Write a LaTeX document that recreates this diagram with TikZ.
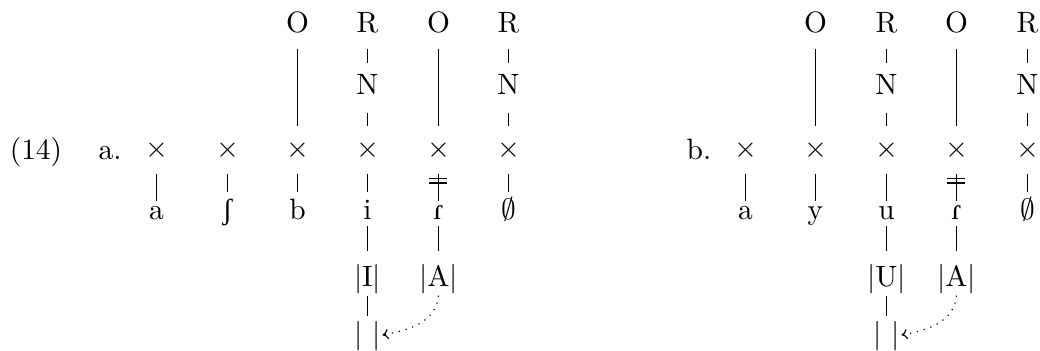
\documentclass[tikz,border=0pt]{standalone}
\usepackage{fontspec}
\newfontfamily\ipa{Liberation Serif}
\usetikzlibrary{arrows.meta}
\begin{document}
\begin{tikzpicture}[x=0.34pt,y=-0.34pt,
  seg/.style={inner sep=0pt, anchor=base},
  rA/.style={seg,text height=6.12pt,text depth=5.1pt},
  rN/.style={seg,text height=10.54pt,text depth=5.78pt},
  rX/.style={seg,text height=10.54pt,text depth=5.1pt},
  rL/.style={seg,text height=9.18pt,text depth=1.7pt},
  rLx/.style={seg,text height=6.12pt,text depth=1.7pt},
  rS/.style={seg,text height=11.9pt,text depth=2.72pt},
  rB/.style={seg,text height=9.2pt,text depth=2.5pt},
  link/.style={line width=0.4pt},
  spread/.style={dotted, -{To[length=2pt,width=3.4pt]}}
]
\useasboundingbox (0,0) rectangle (1040,351);
% labels
\node[seg] (ex) at (36,160) {(14)};
\node[seg] (la) at (110,160) {a.};
\node[seg] (lb) at (699,160) {b.};
% ---------- a ----------
\node[rX] (ax1) at (156.5,158) {$\times$};
\node[rX] (ax2) at (227.5,158) {$\times$};
\node[rX] (ax3) at (297.5,158) {$\times$};
\node[rX] (ax4) at (367.5,158) {$\times$};
\node[rX] (ax5) at (438.5,158) {$\times$};
\node[rX] (ax6) at (508.5,158) {$\times$};
\node[rA] (ao3) at (297.5,33) {O};
\node[rA] (ar4) at (367.5,33) {R};
\node[rA] (ao5) at (438.5,33) {O};
\node[rA] (ar6) at (508.5,33) {R};
\node[rN] (an4) at (367.5,95) {N};
\node[rN] (an6) at (508.5,95) {N};
\node[rLx] (as1) at (156.5,220) {a};
\node[rL] (as2) at (227.5,220) {\ipa ʃ};
\node[rL] (as3) at (297.5,220) {b};
\node[rL] (as4) at (367.5,220) {i};
\node[rLx] (as5) at (438.5,220) {\ipa ɾ};
\node[rL] (as6) at (508.5,220) {$\emptyset$};
\node[rS] (am4) at (367.5,287) {$|\mathrm{I}|$};
\node[rS] (am5) at (438.5,287) {$|\mathrm{A}|$};
\node[rB] (ab4) at (367.5,344) {$|\phantom{\mathrm{I}}|$};
\draw[link] (ao3.south) -- (ax3.north);
\draw[link] (ao5.south) -- (ax5.north);
\draw[link] (ar4.south) -- (an4.north);
\draw[link] (an4.south) -- (ax4.north);
\draw[link] (ar6.south) -- (an6.north);
\draw[link] (an6.south) -- (ax6.north);
\draw[link] (ax1.south) -- (as1.north);
\draw[link] (ax2.south) -- (as2.north);
\draw[link] (ax3.south) -- (as3.north);
\draw[link] (ax4.south) -- (as4.north);
\draw[link] (ax5.south) -- (as5.north) coordinate[pos=0.17] (adb1) coordinate[pos=0.34] (adb2);
\draw[link] ([xshift=-3.06pt]adb1) -- ([xshift=3.06pt]adb1);
\draw[link] ([xshift=-3.06pt]adb2) -- ([xshift=3.06pt]adb2);
\draw[link] (ax6.south) -- (as6.north);
\draw[link] (as4.south) -- (am4.north);
\draw[link] (as5.south) -- (am5.north);
\draw[link] (am4.south) -- (ab4.north);
\draw[spread] (am5.south) to[out=-95,in=10] ([yshift=3.06pt,xshift=0.3pt]ab4.base east);
% ---------- b ----------
\node[rX] (bx1) at (745.5,158) {$\times$};
\node[rX] (bx2) at (815.5,158) {$\times$};
\node[rX] (bx3) at (886.5,158) {$\times$};
\node[rX] (bx4) at (956.5,158) {$\times$};
\node[rX] (bx5) at (1027.5,158) {$\times$};
\node[rA] (bo2) at (815.5,33) {O};
\node[rA] (br3) at (886.5,33) {R};
\node[rA] (bo4) at (956.5,33) {O};
\node[rA] (br5) at (1027.5,33) {R};
\node[rN] (bn3) at (886.5,95) {N};
\node[rN] (bn5) at (1027.5,95) {N};
\node[rLx] (bs1) at (745.5,220) {a};
\node[rLx] (bs2) at (815.5,220) {y};
\node[rLx] (bs3) at (886.5,220) {u};
\node[rLx] (bs4) at (956.5,220) {\ipa ɾ};
\node[rL] (bs5) at (1027.5,220) {$\emptyset$};
\node[rS] (bm3) at (886.5,287) {$|\mathrm{U}|$};
\node[rS] (bm4) at (956.5,287) {$|\mathrm{A}|$};
\node[rB] (bb3) at (886.5,344) {$|\phantom{\mathrm{I}}|$};
\draw[link] (bo2.south) -- (bx2.north);
\draw[link] (bo4.south) -- (bx4.north);
\draw[link] (br3.south) -- (bn3.north);
\draw[link] (bn3.south) -- (bx3.north);
\draw[link] (br5.south) -- (bn5.north);
\draw[link] (bn5.south) -- (bx5.north);
\draw[link] (bx1.south) -- (bs1.north);
\draw[link] (bx2.south) -- (bs2.north);
\draw[link] (bx3.south) -- (bs3.north);
\draw[link] (bx4.south) -- (bs4.north) coordinate[pos=0.17] (bdb1) coordinate[pos=0.34] (bdb2);
\draw[link] ([xshift=-3.06pt]bdb1) -- ([xshift=3.06pt]bdb1);
\draw[link] ([xshift=-3.06pt]bdb2) -- ([xshift=3.06pt]bdb2);
\draw[link] (bx5.south) -- (bs5.north);
\draw[link] (bs3.south) -- (bm3.north);
\draw[link] (bs4.south) -- (bm4.north);
\draw[link] (bm3.south) -- (bb3.north);
\draw[spread] (bm4.south) to[out=-95,in=10] ([yshift=3.06pt,xshift=0.3pt]bb3.base east);
\end{tikzpicture}
\end{document}
